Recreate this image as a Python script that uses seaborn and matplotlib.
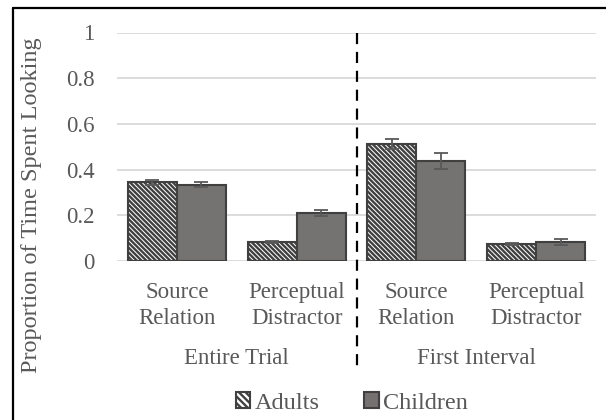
import matplotlib
matplotlib.use("Agg")
import matplotlib.pyplot as plt
from matplotlib.lines import Line2D
from matplotlib.patches import Patch
import seaborn as sns
import pandas as pd

# Data
conditions = ["ET-SR", "ET-PD", "FI-SR", "FI-PD"]
tick_labels = ["Source\nRelation", "Perceptual\nDistractor", "Source\nRelation", "Perceptual\nDistractor"]
periods = ["Entire Trial", "First Interval"]
groups = ["Adults", "Children"]
adults_mean = [0.344, 0.084, 0.512, 0.074]
adults_err = [0.011, 0.005, 0.022, 0.004]
children_mean = [0.334, 0.209, 0.439, 0.083]
children_err = [0.012, 0.013, 0.035, 0.013]

df = pd.DataFrame({
    "condition": conditions * 2,
    "group": [groups[0]] * 4 + [groups[1]] * 4,
    "value": adults_mean + children_mean,
    "err": adults_err + children_err,
})

sns.set_theme(style="white")
plt.rcParams["font.family"] = ["Liberation Serif", "DejaVu Serif"]
plt.rcParams["hatch.linewidth"] = 1.7

text_color = "#595959"
edge = "#404040"
fill_child = "#767171"
fs = 16.5
hatch = "\\" * 7

fig = plt.figure(figsize=(6.06, 4.2), dpi=100)
ax = fig.add_axes([117 / 606, 1 - 261 / 420, (596 - 117) / 606, (261 - 32.5) / 420])

sns.barplot(data=df, x="condition", y="value", hue="group", order=conditions,
            hue_order=groups, palette=["white", fill_child], width=0.82,
            errorbar=None, edgecolor=edge, linewidth=1.5, ax=ax, legend=False)

# hatch the adult bars and add error bars from the data
n = len(conditions)
for i, patch in enumerate(ax.patches[:2 * n]):
    if i < n:
        patch.set_hatch(hatch)
        patch.set_edgecolor(edge)
for i, patch in enumerate(ax.patches[:2 * n]):
    cx = patch.get_x() + patch.get_width() / 2
    g = i // n
    c = i % n
    m = (adults_mean if g == 0 else children_mean)[c]
    e = (adults_err if g == 0 else children_err)[c]
    ax.errorbar(cx, m, yerr=e, fmt="none", ecolor="#595959", elinewidth=1.3,
                capsize=5, capthick=1.3, zorder=5)

ax.set_ylim(0, 1)
ax.set_xlim(-0.5, n - 0.5)
ax.set_yticks([0, 0.2, 0.4, 0.6, 0.8, 1.0])
ax.set_yticklabels(["0", "0.2", "0.4", "0.6", "0.8", "1"])
ax.yaxis.grid(True, color="#d9d9d9", linewidth=1.3)
ax.set_axisbelow(True)
for s in ax.spines.values():
    s.set_visible(False)
ax.tick_params(axis="both", length=0, labelsize=fs, labelcolor=text_color)
ax.tick_params(axis="x", pad=15)
ax.tick_params(axis="y", pad=16)
ax.set_xticks(range(n))
ax.set_xticklabels(tick_labels, linespacing=1.3)
ax.set_xlabel("")
ax.set_ylabel("Proportion of Time Spent Looking", fontsize=17.5, color=text_color)
ax.yaxis.set_label_coords((32 - 117) / 479, (261 - 205) / 228.5)
ax.yaxis.label.set_verticalalignment("center")

# period labels under each pair of conditions
for k, p in enumerate(periods):
    ax.text(2 * k + 0.5, (261 - 359) / 228.5, p, transform=ax.get_xaxis_transform(),
            ha="center", va="center", fontsize=fs, color=text_color)

# dashed divider between the two periods
xdiv = 1.5
ax.plot([xdiv, xdiv], [1.0, (261 - 367) / 228.5], transform=ax.get_xaxis_transform(),
        color="black", linewidth=1.6, linestyle=(0, (5, 3.5)), clip_on=False, zorder=6)

# legend
handles = [Patch(facecolor="white", edgecolor=edge, hatch="\\" * 5, linewidth=1.5),
           Patch(facecolor=fill_child, edgecolor=edge, linewidth=1.5)]
fig.legend(handles, groups, loc="center", bbox_to_anchor=(352 / 606, 1 - 403 / 420), ncol=2,
           frameon=False, fontsize=17.5, labelcolor=text_color, handlelength=0.6,
           handleheight=0.6, handletextpad=0.2, columnspacing=1.8, borderaxespad=0)

# frame lines on the left and top
fig.add_artist(Line2D([13 / 606, 13 / 606], [0, 1 - 8 / 420], color="black", linewidth=1.6,
                      transform=fig.transFigure))
fig.add_artist(Line2D([13 / 606, 1], [1 - 8 / 420, 1 - 8 / 420], color="black", linewidth=1.6,
                      transform=fig.transFigure))

fig.savefig("out.png", dpi=100)
